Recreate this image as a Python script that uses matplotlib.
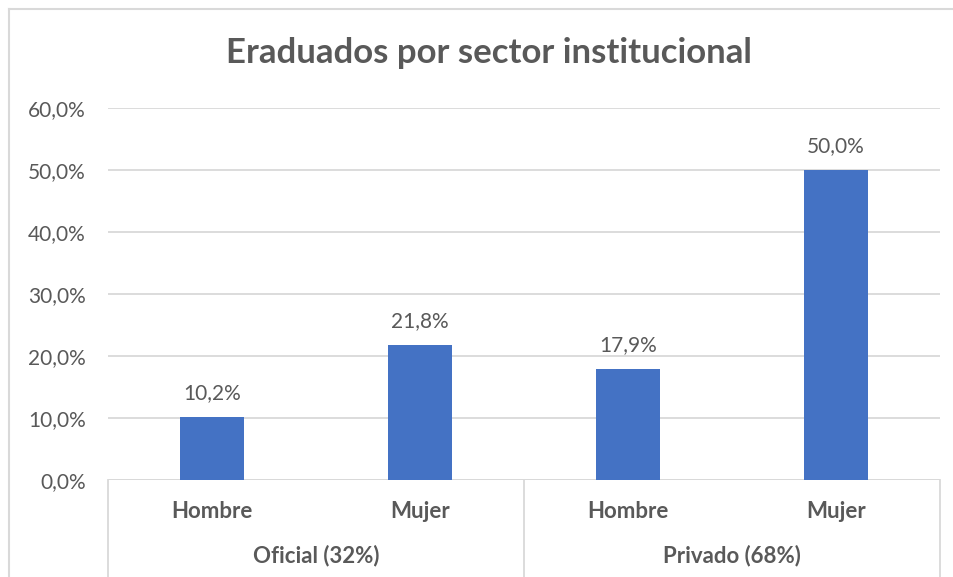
import matplotlib
matplotlib.use('Agg')
import matplotlib.pyplot as plt
import matplotlib.transforms as mtrans
from matplotlib.lines import Line2D

sexes = ['Hombre', 'Mujer', 'Hombre', 'Mujer']
groups = ['Oficial (32%)', 'Privado (68%)']
values = [10.2, 21.8, 17.9, 50.0]
yticks = [0, 10, 20, 30, 40, 50, 60]

plt.rcParams['font.family'] = ['Lato', 'DejaVu Sans']
TXT = '#595959'
GRID = '#d9d9d9'

fig = plt.figure(figsize=(9.54, 5.77), dpi=100)
W, H = 954, 577

# chart border: top and left only
fig.add_artist(Line2D([9 / W, 1], [1 - 9 / H, 1 - 9 / H], transform=fig.transFigure,
                      color=GRID, linewidth=1.5))
fig.add_artist(Line2D([9 / W, 9 / W], [0, 1 - 9 / H], transform=fig.transFigure,
                      color=GRID, linewidth=1.5))

ax = fig.add_axes([108 / W, 1 - 480 / H, 832 / W, 372 / H])
xs = list(range(len(values)))
ax.bar(xs, values, width=0.31, color='#4472C4', zorder=3)
for x, v in zip(xs, values):
    ax.text(x, v + 2.2, f'{v:.1f}%'.replace('.', ','), ha='center', va='bottom',
            fontsize=15, color=TXT)

ax.set_xlim(-0.5, len(values) - 0.5)
ax.set_ylim(0, 60)
ax.set_yticks(yticks)
ax.set_yticklabels([f'{t:.1f}%'.replace('.', ',') for t in yticks], fontsize=15, color=TXT)
ax.tick_params(axis='y', length=0, pad=16)
ax.set_xticks([])
ax.grid(axis='y', color=GRID, linewidth=1.3, zorder=0)
for s in ax.spines.values():
    s.set_visible(False)
ax.axhline(0, color=GRID, linewidth=1.3, zorder=2)

# two-level category axis
off1 = ax.get_xaxis_transform() + mtrans.ScaledTranslation(0, -0.31, fig.dpi_scale_trans)
off2 = ax.get_xaxis_transform() + mtrans.ScaledTranslation(0, -0.76, fig.dpi_scale_trans)
for x, s in zip(xs, sexes):
    ax.text(x, 0.0, s, transform=off1, ha='center', va='center',
            fontsize=16, fontweight='bold', color=TXT)
for i, g in enumerate(groups):
    ax.text(2 * i + 0.5, 0.0, g, transform=off2, ha='center', va='center',
            fontsize=16, fontweight='bold', color=TXT)

for xb in [-0.5, 1.5, 3.5]:
    ax.add_line(Line2D([xb, xb], [0, -0.3], transform=ax.get_xaxis_transform(),
                       color=GRID, linewidth=1.3, clip_on=False))

fig.text(489 / W, 1 - 53 / H, 'Eraduados por sector institucional', ha='center', va='center',
         fontsize=25, fontweight='bold', color=TXT)

fig.savefig('out.png', dpi=100)
